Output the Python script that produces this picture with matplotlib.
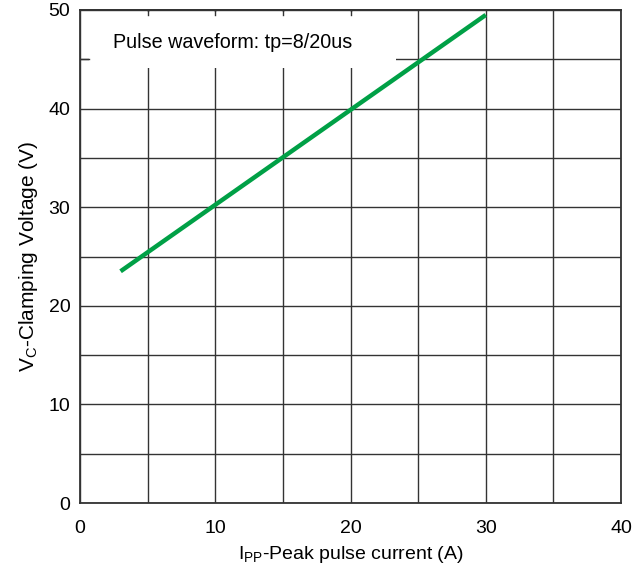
import matplotlib
matplotlib.use("Agg")
import matplotlib.pyplot as plt
from matplotlib.patches import Rectangle

plt.rcParams['font.family'] = ['Liberation Sans', 'DejaVu Sans']
plt.rcParams['mathtext.fontset'] = 'custom'
plt.rcParams['mathtext.rm'] = 'Liberation Sans'

# Data
ipp = [3, 30]
vc = [23.5, 49.5]
x_ticks = [0, 10, 20, 30, 40]
y_ticks = [0, 10, 20, 30, 40, 50]
annotation = "Pulse waveform: tp=8/20us"

fig = plt.figure(figsize=(6.33, 5.71), dpi=100)
ax = fig.add_axes([80/633, (571-503)/571, (621-80)/633, (503-10)/571])
ax.set_xlim(0, 40)
ax.set_ylim(0, 50)
ax.set_xticks(x_ticks)
ax.set_yticks(y_ticks)
ax.set_xticks([5, 15, 25, 35], minor=True)
ax.set_yticks([5, 15, 25, 35, 45], minor=True)
ax.grid(True, which='both', color='#333333', linewidth=1.0, zorder=1)
ax.tick_params(which='both', direction='in', length=0, labelsize=14)
ax.tick_params(axis='x', pad=12)
ax.tick_params(axis='y', pad=7)
for s in ax.spines.values():
    s.set_color('#333333')
    s.set_linewidth(1.3)
    s.set_zorder(10)

# white box covering grid behind annotation
ax.add_patch(Rectangle((0.65, 44.1), 23.4 - 0.65, 5.7, facecolor='white',
                       edgecolor='none', zorder=2))
# top frame line drawn explicitly above the box
ax.axhline(50, color='#333333', linewidth=1.3, zorder=6, clip_on=False)
# small stub ticks visible at top
for xv in [5, 10, 15, 20]:
    ax.plot([xv, xv], [50, 49.5], color='#333333', linewidth=1.0, zorder=3)
ax.plot([0, 0.65], [45, 45], color='#333333', linewidth=1.0, zorder=3)

ax.text(2.45, 46.75, annotation, fontsize=14.2, va='center', ha='left', zorder=4)

ax.plot(ipp, vc, color='#00A046', linewidth=3.2, solid_capstyle='butt', zorder=5)

ax.set_xlabel(r'I$_{\mathregular{PP}}$-Peak pulse current (A)', fontsize=14, labelpad=5)
ax.set_ylabel(r'V$_{\mathregular{C}}$-Clamping Voltage (V)', fontsize=15, labelpad=6)

fig.savefig('out.png', dpi=100)
